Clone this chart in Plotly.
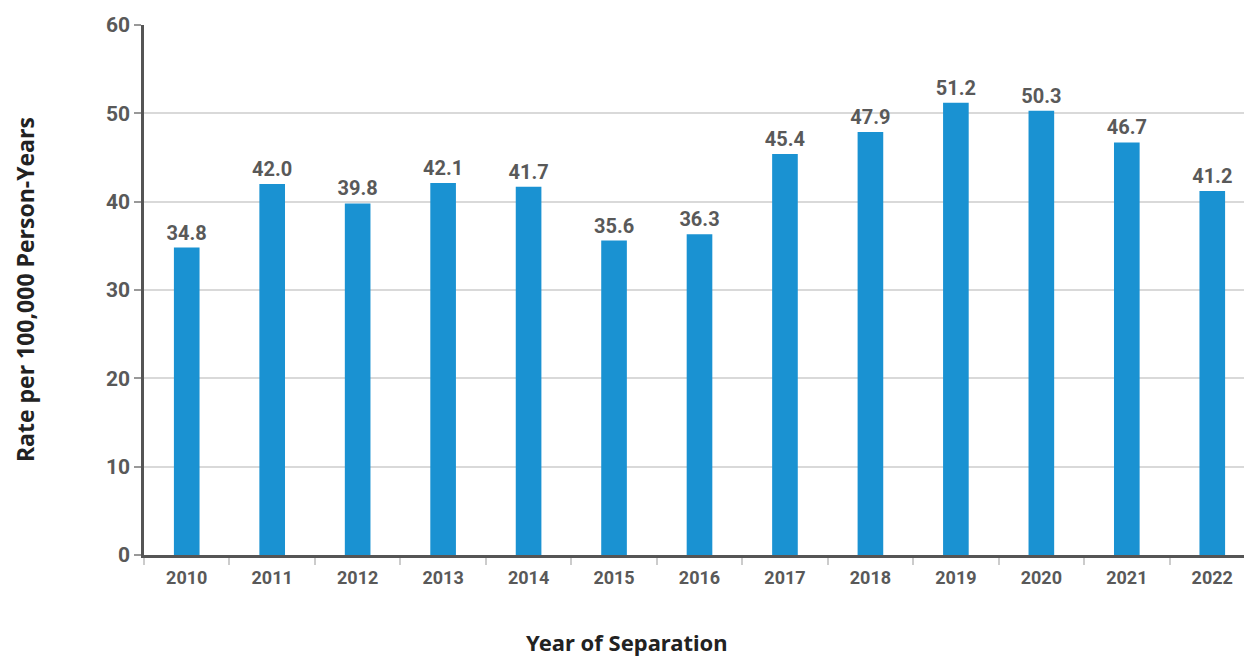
import plotly.graph_objects as go

years = ["2010", "2011", "2012", "2013", "2014", "2015", "2016",
         "2017", "2018", "2019", "2020", "2021", "2022"]
rates = [34.8, 42.0, 39.8, 42.1, 41.7, 35.6, 36.3, 45.4, 47.9, 51.2, 50.3, 46.7, 41.2]
y_ticks = [0, 10, 20, 30, 40, 50, 60]

font_num = "Roboto, Liberation Sans Narrow, sans-serif"

fig = go.Figure()
fig.add_trace(go.Bar(
    x=years,
    y=rates,
    width=0.3,
    marker=dict(color="#1a92d2", line=dict(width=0)),
    text=[f"{v:.1f}" for v in rates],
    textposition="outside",
    constraintext="none",
    textfont=dict(family=font_num, size=20, color="#595959", weight="bold"),
    cliponaxis=False,
))

# page body adds 8px offset, margins compensate for that
fig.update_layout(
    width=1252,
    height=658,
    margin=dict(l=136, r=5, t=12, b=111),
    plot_bgcolor="white",
    paper_bgcolor="white",
    showlegend=False,
)

fig.update_xaxes(
    showline=True, linecolor="#555555", linewidth=2.5,
    ticks="outside", tickson="boundaries", ticklen=7, tickcolor="#cccccc", tickwidth=1.5,
    tickfont=dict(family=font_num, size=18, color="#595959", weight="bold"),
    ticklabelstandoff=5,
    showgrid=False,
)

fig.update_yaxes(
    range=[0, 60],
    tickvals=y_ticks,
    showline=True, linecolor="#555555", linewidth=2.5,
    ticks="outside", ticklen=7, tickcolor="#999999", tickwidth=1.5,
    tickfont=dict(family=font_num, size=21, color="#595959", weight="bold"),
    showgrid=True, gridcolor="#d9d9d9", gridwidth=2,
    zeroline=False,
)

fig.add_annotation(
    text="<b>Rate per 100,000 Person-Years</b>",
    xref="paper", yref="paper", x=-0.107, y=0.5,
    xanchor="center", yanchor="middle", textangle=-90, showarrow=False,
    font=dict(family="Open Sans, Noto Sans, sans-serif", size=23, color="#222222"),
)
fig.add_annotation(
    text="<b>Year of Separation</b>",
    xref="paper", yref="paper", x=0.435, y=-0.164,
    xanchor="center", yanchor="middle", showarrow=False,
    font=dict(family="Noto Sans, Open Sans, sans-serif", size=22, color="#222222"),
)

fig.write_html("out.html")
